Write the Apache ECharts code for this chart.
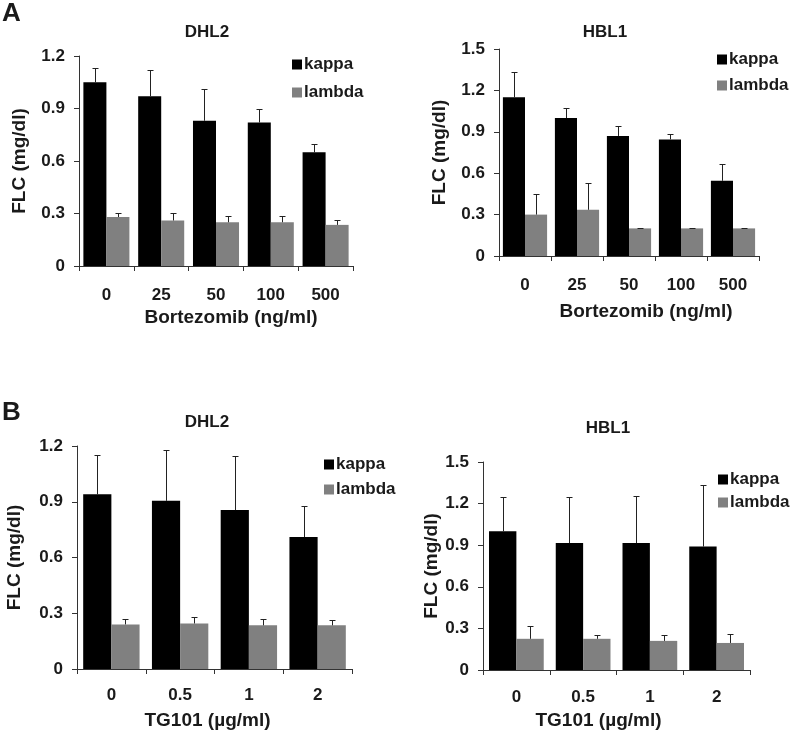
<!DOCTYPE html>
<html>
<head>
<meta charset="utf-8">
<script src="https://cdn.jsdelivr.net/npm/echarts@6/dist/echarts.min.js"></script>
<style>
html,body{margin:0;padding:0;background:#fff;}
#chart{width:800px;height:735px;}
</style>
</head>
<body>
<div id="chart"></div>
<script>
// Categories
var catBortezomib = ['0', '25', '50', '100', '500'];
var catTG101 = ['0', '0.5', '1', '2'];

// Panel A, DHL2 (Bortezomib)
var aDhl2Kappa = [1.05, 0.97, 0.83, 0.82, 0.65];
var aDhl2KappaErr = [0.08, 0.15, 0.18, 0.075, 0.045];
var aDhl2Lambda = [0.28, 0.26, 0.25, 0.25, 0.235];
var aDhl2LambdaErr = [0.025, 0.045, 0.035, 0.035, 0.027];

// Panel A, HBL1 (Bortezomib)
var aHbl1Kappa = [1.15, 1.0, 0.87, 0.845, 0.545];
var aHbl1KappaErr = [0.185, 0.07, 0.07, 0.04, 0.12];
var aHbl1Lambda = [0.30, 0.335, 0.2, 0.2, 0.2];
var aHbl1LambdaErr = [0.15, 0.195, 0.005, 0.005, 0.005];

// Panel B, DHL2 (TG101)
var bDhl2Kappa = [0.94, 0.905, 0.855, 0.71];
var bDhl2KappaErr = [0.21, 0.275, 0.29, 0.165];
var bDhl2Lambda = [0.24, 0.245, 0.235, 0.235];
var bDhl2LambdaErr = [0.03, 0.035, 0.035, 0.03];

// Panel B, HBL1 (TG101)
var bHbl1Kappa = [1.0, 0.915, 0.915, 0.89];
var bHbl1KappaErr = [0.245, 0.335, 0.34, 0.445];
var bHbl1Lambda = [0.225, 0.225, 0.21, 0.195];
var bHbl1LambdaErr = [0.09, 0.027, 0.04, 0.063];

var FONT = '"Liberation Sans", Arial, sans-serif';
var TXT = '#1a1a1a';
var KAPPA = '#000000';
var LAMBDA = '#808080';

var panels = [
  {cats: catBortezomib, k: aDhl2Kappa, ke: aDhl2KappaErr, l: aDhl2Lambda, le: aDhl2LambdaErr,
   grid: {left: 79, top: 56, width: 274, height: 210}, max: 1.2, gap: 0.16,
   xname: 'Bortezomib (ng/ml)', xshift: 15, labelMargin: 21, nameGap: 42, ynameGap: 50,
   title: 'DHL2', tx: 207, ty: 24, legend: {left: 292, top: 56, gap: 11}},
  {cats: catBortezomib, k: aHbl1Kappa, ke: aHbl1KappaErr, l: aHbl1Lambda, le: aHbl1LambdaErr,
   grid: {left: 499, top: 49, width: 260, height: 207}, max: 1.5, gap: 0.15,
   xname: 'Bortezomib (ng/ml)', xshift: 17, labelMargin: 21, nameGap: 46, ynameGap: 50,
   title: 'HBL1', tx: 605, ty: 24, legend: {left: 717, top: 51, gap: 9}},
  {cats: catTG101, k: bDhl2Kappa, ke: bDhl2KappaErr, l: bDhl2Lambda, le: bDhl2LambdaErr,
   grid: {left: 77, top: 446, width: 275, height: 223}, max: 1.2, gap: 0.18,
   xname: 'TG101 (\u00b5g/ml)', xshift: -7, labelMargin: 18, nameGap: 42, ynameGap: 53,
   title: 'DHL2', tx: 207, ty: 414, legend: {left: 324, top: 456, gap: 8}},
  {cats: catTG101, k: bHbl1Kappa, ke: bHbl1KappaErr, l: bHbl1Lambda, le: bHbl1LambdaErr,
   grid: {left: 483, top: 462, width: 267, height: 208}, max: 1.5, gap: 0.18,
   xname: 'TG101 (\u00b5g/ml)', xshift: -18, labelMargin: 19, nameGap: 41, ynameGap: 41,
   title: 'HBL1', tx: 608, ty: 420, legend: {left: 718, top: 471, gap: 6}}
];

function errRender(side, gapFrac) {
  return function (params, api) {
    var x = api.value(0), v = api.value(1), e = api.value(2);
    var p0 = api.coord([x, v]);
    var p1 = api.coord([x, v + e]);
    var cw = api.size([1, 0])[0];
    var bw = cw * (1 - gapFrac) / 2;
    var cx = Math.round(p0[0] + side * bw / 2) + 0.5;
    var y0 = p0[1], y1 = Math.round(p1[1]) + 0.5;
    return {
      type: 'group',
      children: [
        {type: 'line', shape: {x1: cx, y1: y0, x2: cx, y2: y1}, style: {stroke: '#222', lineWidth: 1}},
        {type: 'line', shape: {x1: cx - 3, y1: y1, x2: cx + 3, y2: y1}, style: {stroke: '#222', lineWidth: 1}}
      ]
    };
  };
}

var option = {
  animation: false,
  backgroundColor: '#fff',
  title: [
    {text: 'A', left: 2, top: 1, padding: 0, textStyle: {fontFamily: FONT, fontSize: 26, fontWeight: 'bold', color: TXT}},
    {text: 'B', left: 2, top: 400, padding: 0, textStyle: {fontFamily: FONT, fontSize: 26, fontWeight: 'bold', color: TXT}}
  ],
  grid: [], xAxis: [], yAxis: [], legend: [], series: []
};

panels.forEach(function (p, i) {
  option.grid.push(p.grid);
  option.title.push({text: p.title, left: p.tx, top: p.ty, padding: 0, textAlign: 'center',
    textStyle: {fontFamily: FONT, fontSize: 17, fontWeight: 'bold', color: TXT}});
  var pad = p.xshift >= 0 ? [0, 0, 0, 2 * p.xshift] : [0, -2 * p.xshift, 0, 0];
  option.xAxis.push({
    type: 'category', gridIndex: i, data: p.cats,
    name: p.xname, nameLocation: 'middle', nameGap: p.nameGap,
    nameTextStyle: {fontFamily: FONT, fontSize: 19, fontWeight: 'bold', color: TXT, padding: pad},
    axisLine: {lineStyle: {color: '#333', width: 1}},
    axisTick: {show: true, length: 5, lineStyle: {color: '#333'}},
    axisLabel: {fontFamily: FONT, fontSize: 17, fontWeight: 'bold', color: TXT, margin: p.labelMargin},
    splitLine: {show: false}
  });
  option.yAxis.push({
    type: 'value', gridIndex: i, min: 0, max: p.max, interval: 0.3,
    name: 'FLC (mg/dl)', nameLocation: 'middle', nameGap: p.ynameGap, nameRotate: 90,
    nameTextStyle: {fontFamily: FONT, fontSize: 19, fontWeight: 'bold', color: TXT},
    axisLine: {show: true, lineStyle: {color: '#333', width: 1}},
    axisTick: {show: true, length: 5, lineStyle: {color: '#333'}},
    axisLabel: {fontFamily: FONT, fontSize: 17, fontWeight: 'bold', color: TXT, margin: 14,
      formatter: function (v) { return v === 0 ? '0' : v.toFixed(1); }},
    splitLine: {show: false}
  });
  option.legend.push({
    data: ['kappa', 'lambda'], orient: 'vertical', left: p.legend.left, top: p.legend.top,
    padding: 0, itemGap: p.legend.gap, itemWidth: 10, itemHeight: 10, icon: 'rect',
    textStyle: {fontFamily: FONT, fontSize: 17, fontWeight: 'bold', color: TXT, padding: [0, 0, 0, -3]}
  });
  var gapPct = Math.round(p.gap * 100) + '%';
  option.series.push({
    name: 'kappa', type: 'bar', xAxisIndex: i, yAxisIndex: i, data: p.k,
    barGap: '0%', barCategoryGap: gapPct, itemStyle: {color: KAPPA}, z: 2
  });
  option.series.push({
    name: 'lambda', type: 'bar', xAxisIndex: i, yAxisIndex: i, data: p.l,
    barGap: '0%', barCategoryGap: gapPct, itemStyle: {color: LAMBDA}, z: 2
  });
  option.series.push({
    type: 'custom', xAxisIndex: i, yAxisIndex: i, z: 5,
    renderItem: errRender(-1, p.gap),
    encode: {x: 0, y: 1},
    data: p.k.map(function (v, j) { return [j, v, p.ke[j]]; })
  });
  option.series.push({
    type: 'custom', xAxisIndex: i, yAxisIndex: i, z: 5,
    renderItem: errRender(1, p.gap),
    encode: {x: 0, y: 1},
    data: p.l.map(function (v, j) { return [j, v, p.le[j]]; })
  });
});

var chart = echarts.init(document.getElementById('chart'), null, {renderer: 'canvas'});
chart.setOption(option);
</script>
</body>
</html>
